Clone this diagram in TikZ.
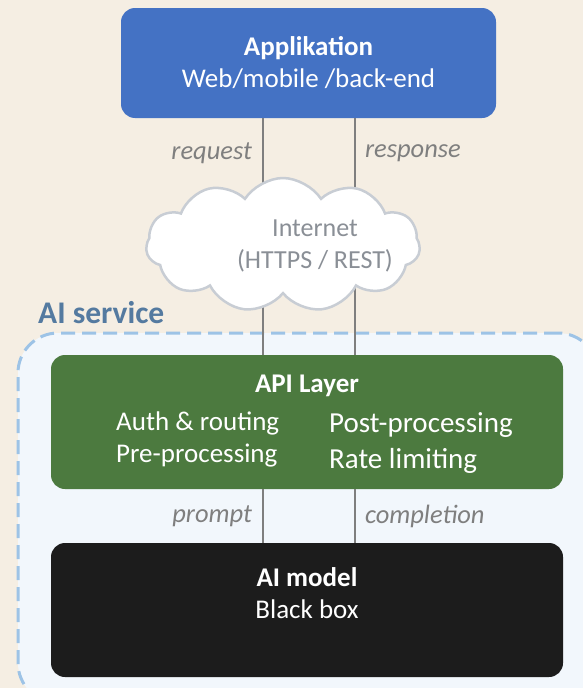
\documentclass[tikz,border=0pt]{standalone}
\usepackage{fontspec}
\setmainfont{Carlito}
\usepackage{tikz}
\usetikzlibrary{shapes.symbols,positioning}
\definecolor{bgbeige}{RGB}{245,238,227}
\definecolor{appblue}{RGB}{68,114,196}
\definecolor{apigreen}{RGB}{76,122,63}
\definecolor{modelblack}{RGB}{28,28,28}
\definecolor{svcfill}{RGB}{242,247,252}
\definecolor{svcdash}{RGB}{157,195,230}
\definecolor{svctext}{RGB}{84,122,160}
\definecolor{wiregray}{RGB}{127,127,127}
\definecolor{cloudline}{RGB}{200,205,212}
\definecolor{cloudtext}{RGB}{138,143,150}

\begin{document}
\begin{tikzpicture}[x=1pt,y=-1pt,font=\fontsize{27}{32}\selectfont,
    box/.style={rounded corners=14pt,minimum width=512pt,minimum height=134pt,inner sep=0pt,draw=none},
    wire/.style={draw=wiregray,line width=2pt},
    lbl/.style={font=\fontsize{26.5}{32}\selectfont\itshape,text=wiregray,inner sep=0pt}]
    % background and frame
    \fill[bgbeige] (0,0) rectangle (583,688);
    \useasboundingbox (0,0) rectangle (583,688);
    \node[draw=svcdash,fill=svcfill,line width=3pt,dash pattern=on 14pt off 7pt,rounded corners=40pt,minimum width=580pt,minimum height=370pt] (service) at (308,518) {};
    \node[font=\fontsize{31.5}{36}\selectfont\bfseries,text=svctext,anchor=west,inner sep=0pt] (svclabel) at (38,313) {AI service};

    % boxes
    \node[box,fill=apigreen] (api) at (307,422) {};
    \node[box,fill=modelblack] (model) at (307,610) {};
    \node[box,fill=appblue,minimum width=375pt,minimum height=110pt,text=white,align=center] (app) at (308.5,63) {\textbf{Applikation}\\Web/mobile /back-end};

    \node[text=white,inner sep=0pt] (apititle) at (307,386) {\textbf{API Layer}};
    \node[text=white,anchor=west,inner sep=0pt] (auth) at (116,423) {Auth \& routing};
    \node[text=white,anchor=west,inner sep=0pt] (pre) at (116,456) {Pre-processing};
    \node[text=white,anchor=west,inner sep=0pt,font=\fontsize{29}{34}\selectfont] (post) at (329,425) {Post-processing};
    \node[text=white,anchor=west,inner sep=0pt,font=\fontsize{29}{34}\selectfont] (rate) at (329,461) {Rate limiting};
    \node[text=white,align=center,inner sep=0pt] (modeltxt) at (307,593) {\textbf{AI model}\\Black box};

    % connectors
    \coordinate (reqx) at (263,0);
    \coordinate (resx) at (355,0);
    \draw[wire] (app.south -| reqx) -- node[lbl,pos=0.15,left=10pt] (reqlbl) {request} (api.north -| reqx);
    \draw[wire] (app.south -| resx) -- node[lbl,pos=0.15,right=9pt] (reslbl) {response} (api.north -| resx);
    \draw[wire] (api.south -| reqx) -- node[lbl,left=10pt] (promptlbl) {prompt} (model.north -| reqx);
    \draw[wire] (api.south -| resx) -- node[lbl,right=9pt] (complbl) {completion} (model.north -| resx);

    % internet cloud
    \node[cloud,cloud puffs=11,cloud puff arc=115,aspect=2.1,draw=cloudline,line width=2.5pt,fill=white,minimum width=274pt,minimum height=134pt] (net) at (283,245) {};
    \node[text=cloudtext,align=center,inner sep=0pt,font=\fontsize{26}{32}\selectfont] (nettxt) at (315,246) {Internet\\(HTTPS / REST)};
\end{tikzpicture}
\end{document}
